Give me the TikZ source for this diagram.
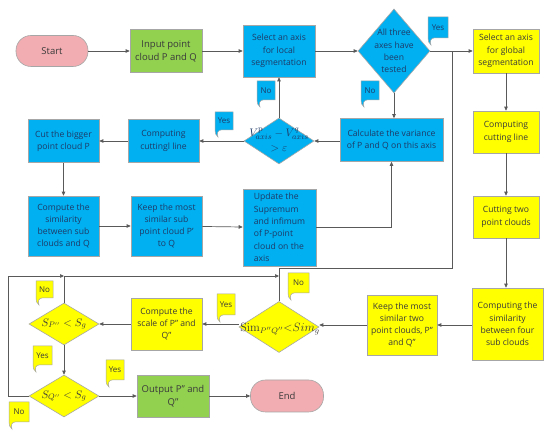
\documentclass[tikz,border=0pt]{standalone}
\usepackage[no-math]{fontspec}
\setmainfont{Open Sans}
\usetikzlibrary{shapes.geometric,arrows.meta}
\definecolor{cblue}{HTML}{00B0F0}
\definecolor{cyellow}{HTML}{FFFF00}
\definecolor{cgreen}{HTML}{92D050}
\definecolor{cpink}{HTML}{F2ADB2}
\definecolor{cborder}{HTML}{A6A6A6}
\definecolor{cline}{HTML}{595959}
\definecolor{cnavy}{HTML}{1F3A68}
\definecolor{cdark}{HTML}{3A3A3A}
\newcommand\callout[8]{% name x y w h fill textcolor text
  \draw[cborder, line width=0.5pt, fill=#6] (#2,#3) -- ++(#4,0) -- ++(0,#5) -- ++(-#4+6,0)
    .. controls +(-3,0) and +(-1.5,-4) .. ++(-3,7)
    .. controls +(-2.5,-2) and +(0,3) .. ++(-3,-7) -- cycle;
  \node[font=\fontsize{8}{10}\selectfont, text=#7, inner sep=0] (#1) at (#2+#4/2,#3+#5/2) {#8};}
\begin{document}
\begin{tikzpicture}[x=1pt,y=-1pt,
  box/.style={draw=cborder, line width=0.6pt, inner sep=0pt, align=center,
    font=\fontsize{8.6}{12.3}\selectfont},
  bbox/.style={box, fill=cblue, text=cnavy},
  ybox/.style={box, fill=cyellow, text=cdark},
  gbox/.style={box, fill=cgreen, text=cdark, font=\fontsize{9.5}{13}\selectfont},
  term/.style={box, fill=cpink, text=cdark, rounded corners=15pt, font=\fontsize{9.5}{13}\selectfont},
  dia/.style={diamond, draw=cborder, line width=0.6pt, inner sep=0pt},
  dtext/.style={align=center, inner sep=0pt, font=\fontsize{8.6}{12.3}\selectfont},
  mtext/.style={align=center, inner sep=0pt, font=\fontsize{11}{15}\selectfont},
  ln/.style={draw=cline, line width=0.7pt},
  arr/.style={ln, -{Triangle[length=4pt,width=3.5pt]}}]
\useasboundingbox[fill=white] (0,0) rectangle (550,435);

% top row
\node[term, minimum width=72, minimum height=31] (start) at (52,51) {Start};
\node[gbox, minimum width=72, minimum height=43] (input) at (166,51) {Input point\\cloud P and Q};
\node[bbox, minimum width=72, minimum height=52] (selloc) at (279,51) {Select an axis\\for local\\segmentation};
\node[dia, fill=cblue, minimum width=72, minimum height=84] (d1) at (394,51) {};
\node[dtext, text=cnavy] (d1t) at (d1) {All three\\axes have\\been\\tested};
\node[ybox, minimum width=66, minimum height=44] (selglob) at (506,51) {Select an axis\\for global\\segmentation};

% second row
\node[bbox, minimum width=71, minimum height=43] (cutbig) at (63.5,141) {Cut the bigger\\point cloud P};
\node[bbox, minimum width=71, minimum height=43] (cutline) at (163.5,141) {Computing\\cuttingl line};
\node[dia, fill=cblue, minimum width=70, minimum height=46] (vdia) at (279,141) {};
\node[mtext, text=cnavy] (vdiat) at (279,140) {$V^{\mathrm{p}}_{axis}-V^{q}_{axis}$\\$>\varepsilon$};
\node[bbox, minimum width=103, minimum height=43] (calc) at (391.5,140) {Calculate the variance\\of P and Q on this axis};
\node[ybox, minimum width=66, minimum height=42] (cutline2) at (506,132) {Computing\\cutting line};

% third row
\node[bbox, minimum width=71, minimum height=60] (simsub) at (63.5,226) {Compute the\\similarity\\between sub\\clouds and Q};
\node[bbox, minimum width=71, minimum height=60] (keepP) at (166.5,226) {Keep the most\\similar sub\\point cloud P'\\to Q};
\node[bbox, minimum width=73, minimum height=77, align=left] (update) at (279.5,227.5) {Update the\\Supremum\\and infimum\\of P-point\\cloud on the\\axis};
\node[ybox, minimum width=66, minimum height=42] (cutting2) at (506,217) {Cutting two\\point clouds};

% fourth row
\node[dia, fill=cyellow, minimum width=70, minimum height=42] (sp) at (64,324) {};
\node[mtext, text=cdark] (spt) at (sp) {$S_{P''}<S_g$};
\node[ybox, minimum width=71, minimum height=52] (scale) at (166.5,324) {Compute the\\scale of P" and\\Q"};
\node[dia, fill=cyellow, minimum width=80, minimum height=51] (simd) at (279,327) {};
\node[mtext, text=cdark, font=\fontsize{11.5}{13}\selectfont] (simdt) at (280,329) {$\mathrm{Sim}_{P''Q''}{<}Sim_g$};
\node[ybox, minimum width=70, minimum height=60] (keep2) at (402,325) {Keep the most\\similar two\\point clouds, P"\\and Q"};
\node[ybox, minimum width=71, minimum height=72] (sim4) at (507.5,324) {Computing the\\similarity\\between four\\sub clouds};

% bottom row
\node[dia, fill=cyellow, minimum width=70, minimum height=42] (sq) at (64,396) {};
\node[mtext, text=cdark] (sqt) at (sq) {$S_{Q''}<S_g$};
\node[gbox, minimum width=72, minimum height=42] (output) at (173,396) {Output P" and\\Q"};
\node[term, minimum width=73, minimum height=32] (end) at (287,396) {End};

% junction coordinates
\coordinate (lft) at (8,396);
\coordinate (j1) at (64,276);
\coordinate (j2) at (279,276);
\coordinate (j3) at (279,268);
\coordinate (j4) at (452,268);
\coordinate (j5) at (452,51);

% connectors
\draw[arr] (start) -- (input);
\draw[arr] (input) -- (selloc);
\draw[arr] (selloc) -- (d1);
\draw[arr] (d1) -- (selglob);
\draw[arr] (d1.south) -- (d1.south |- calc.north);
\draw[arr] (calc.west |- vdia.east) -- (vdia.east);
\draw[arr] (vdia.north) -- (selloc.south);
\draw[arr] (vdia.west) -- (cutline.east);
\draw[arr] (cutline) -- (cutbig);
\draw[arr] (cutbig) -- (simsub);
\draw[arr] (simsub) -- (keepP);
\draw[arr] (keepP) -- (update);
\draw[arr] (update.east) -| (calc.south);
\draw[arr] (selglob) -- (cutline2);
\draw[arr] (cutline2) -- (cutting2);
\draw[arr] (cutting2.south) -- (cutting2.south |- sim4.north);
\draw[arr] (sim4.west |- keep2.east) -- (keep2.east);
\draw[arr] (keep2.west) -- (keep2.west -| simd.east);
\draw[arr] (simd.west |- scale.east) -- (scale.east);
\draw[arr] (scale.west) -- (sp.east);
\draw[arr] (sp.south) -- (sq.north);
\draw[arr] (sq.east) -- (output.west);
\draw[arr] (output.east) -- (end.west);
\draw[arr] (sq.west) -- (lft) |- (j1);
\draw[ln] (sp.north) -- (j1);
\draw[arr] (j1) -- (j2);
\draw[ln] (simd.north) -- (j3) -- (j4) -- (j5);

% callouts
\callout{c1}{428}{17}{20}{21}{cblue}{cnavy}{Yes}
\callout{c2}{361}{81}{18}{19}{cblue}{cnavy}{No}
\callout{c3}{257}{81}{18}{19}{cblue}{cnavy}{No}
\callout{c4}{215}{112}{18}{18}{cblue}{cnavy}{Yes}
\callout{c5}{288}{273}{21}{20}{cyellow}{cdark}{No}
\callout{c6}{217}{294}{18}{21}{cyellow}{cdark}{Yes}
\callout{c7}{36}{281}{17}{17}{cyellow}{cdark}{No}
\callout{c8}{33}{346}{19}{19}{cyellow}{cdark}{Yes}
\callout{c9}{106}{360}{18}{20}{cyellow}{cdark}{Yes}
\callout{c10}{9}{402}{20}{20}{cyellow}{cdark}{No}
\end{tikzpicture}
\end{document}
